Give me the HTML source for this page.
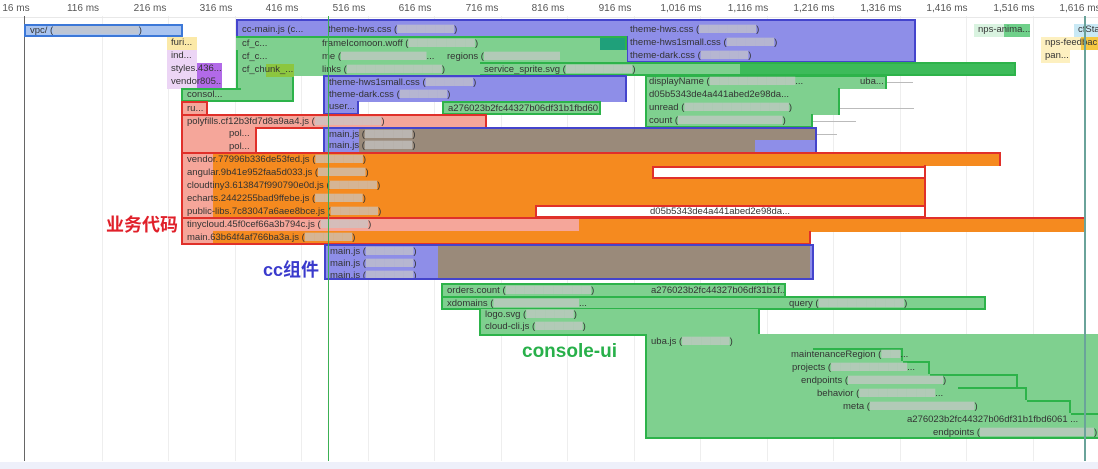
<!DOCTYPE html>
<html><head><meta charset="utf-8"><style>
body{margin:0;width:1098px;height:469px;background:#fff;position:relative;overflow:hidden;font-family:"Liberation Sans","Noto Sans CJK SC",sans-serif;}
div{position:absolute;box-sizing:border-box;}
.t{font-size:10px;color:#555;top:3px;width:60px;text-align:center;}
.g{top:16px;bottom:8px;width:1px;background:#eee;}
.b{height:13px;font-size:9.5px;line-height:12px;color:#333;padding-left:4px;white-space:nowrap;overflow:hidden;}
.bl{background:#8e8ee8;}
.gr{background:#7fd08f;}
.or{background:#f58a1f;}
.pk{background:#f5a69a;}
.gy{background:#9a8a7a;}
.x{color:rgba(200,200,200,0.7);}
</style></head><body>
<div class="t" style="left:-14px">16 ms</div><div class="t" style="left:53px">116 ms</div><div class="t" style="left:120px">216 ms</div><div class="t" style="left:186px">316 ms</div><div class="t" style="left:252px">416 ms</div><div class="t" style="left:319px">516 ms</div><div class="t" style="left:385px">616 ms</div><div class="t" style="left:452px">716 ms</div><div class="t" style="left:518px">816 ms</div><div class="t" style="left:585px">916 ms</div><div class="t" style="left:651px">1,016 ms</div><div class="t" style="left:718px">1,116 ms</div><div class="t" style="left:784px">1,216 ms</div><div class="t" style="left:851px">1,316 ms</div><div class="t" style="left:917px">1,416 ms</div><div class="t" style="left:984px">1,516 ms</div><div class="t" style="left:1050px">1,616 ms</div>
<div class="g" style="left:102px"></div><div class="g" style="left:168px"></div><div class="g" style="left:235px"></div><div class="g" style="left:301px"></div><div class="g" style="left:368px"></div><div class="g" style="left:434px"></div><div class="g" style="left:501px"></div><div class="g" style="left:567px"></div><div class="g" style="left:634px"></div><div class="g" style="left:700px"></div><div class="g" style="left:767px"></div><div class="g" style="left:833px"></div><div class="g" style="left:900px"></div><div class="g" style="left:966px"></div><div class="g" style="left:1033px"></div>
<div style="left:0;right:0;top:17px;height:1px;background:#e8e8e8"></div>
<div style="left:0;right:0;top:462px;height:7px;background:#eef0fa"></div>
<div style="left:24px;top:16px;bottom:8px;width:1px;background:#666"></div>

<div class="b" style="left:24px;top:24px;width:159px;background:#a9c4f0;border:2px solid #3c78d8;line-height:9px">vpc/ (<span class="x">▇▇▇▇▇▇▇▇▇</span>)</div>
<div class="b" style="left:167px;top:37px;width:30px;background:#fbe9a8">furi...</div>
<div class="b" style="left:167px;top:50px;width:30px;background:#ecd5f5">ind...</div>
<div class="b" style="left:167px;top:63px;width:55px;background:linear-gradient(90deg,#ecd5f5 30px,#b26ae8 30px)">styles.436...</div>
<div class="b" style="left:167px;top:76px;width:55px;background:linear-gradient(90deg,#ecd5f5 30px,#b26ae8 30px)">vendor805...</div>

<div class="b bl" style="left:236px;top:19px;width:680px;height:18px;border:2px solid #4444cc;border-bottom:none;padding-top:3px">cc-main.js (c...<span style="position:absolute;left:90px">theme-hws.css (<span class="x">▇▇▇▇▇▇</span>)</span><span style="position:absolute;left:392px">theme-hws.css (<span class="x">▇▇▇▇▇▇</span>)</span></div>
<div class="bl" style="left:626px;top:36px;width:290px;height:27px;border:2px solid #4444cc;border-top:none"></div>
<div class="b" style="left:626px;top:37px;width:280px;background:none">theme-hws1small.css (<span class="x">▇▇▇▇▇</span>)</div>
<div class="b" style="left:626px;top:50px;width:280px;background:none">theme-dark.css (<span class="x">▇▇▇▇▇</span>)</div>

<div class="gr" style="left:236px;top:36px;width:391px;height:40px;border:2px solid #2db34a;border-bottom:none;border-right:none"></div>
<div class="gr" style="left:236px;top:36px;width:391px;height:14px;border-top:2px solid #2db34a;border-right:2px solid #2db34a;background:linear-gradient(90deg,#7fd08f 364px,#1fa07a 364px)"></div>
<div class="gr" style="left:480px;top:62px;width:536px;height:14px;border:2px solid #2db34a;border-left:none;background:linear-gradient(90deg,#7fd08f 260px,#3dbb5a 260px)"></div>
<div class="gr" style="left:236px;top:75px;width:58px;height:27px;border:2px solid #2db34a;border-top:none"></div>
<div class="gr" style="left:181px;top:88px;width:60px;height:14px;border:2px solid #2db34a;border-right:none"></div>
<div class="b" style="left:238px;top:38px">cf_c...</div><div class="b" style="left:318px;top:38px">frameIcomoon.woff (<span class="x">▇▇▇▇▇▇▇</span>)</div>
<div class="b" style="left:238px;top:51px">cf_c...</div><div class="b" style="left:318px;top:51px">me (<span class="x">▇▇▇▇▇▇▇▇▇</span>...</div><div class="b" style="left:443px;top:51px">regions (<span class="x">▇▇▇▇▇▇▇▇</span></div>
<div class="b" style="left:238px;top:64px;width:56px;background:linear-gradient(90deg,transparent 28px,#8cc63f 28px)">cf_chunk_...</div><div class="b" style="left:318px;top:64px">links (<span class="x">▇▇▇▇▇▇▇▇▇▇</span>)</div><div class="b" style="left:480px;top:64px">service_sprite.svg (<span class="x">▇▇▇▇▇▇▇</span>)</div>
<div class="b" style="left:183px;top:89px">consol...</div>

<div class="b bl" style="left:323px;top:75px;width:304px;height:27px;border:2px solid #4444cc;border-bottom:none">theme-hws1small.css (<span class="x">▇▇▇▇▇</span>)<br>theme-dark.css (<span class="x">▇▇▇▇▇</span>)</div>
<div class="b bl" style="left:323px;top:101px;width:36px;height:14px;border:2px solid #4444cc;border-top:none">user...</div>
<div class="b gr" style="left:442px;top:101px;width:159px;height:14px;border:2px solid #2db34a">a276023b2fc44327b06df31b1fbd60...</div>

<div class="gr" style="left:645px;top:75px;width:242px;height:14px;border:2px solid #2db34a;border-bottom:none"></div>
<div class="gr" style="left:645px;top:88px;width:195px;height:27px;border-left:2px solid #2db34a;border-right:2px solid #2db34a"></div>
<div class="gr" style="left:645px;top:114px;width:168px;height:14px;border:2px solid #2db34a;border-top:none"></div>
<div class="b" style="left:645px;top:76px">displayName (<span class="x">▇▇▇▇▇▇▇▇▇</span>...</div><div class="b" style="left:856px;top:76px">uba...</div>
<div class="b" style="left:645px;top:89px">d05b5343de4a441abed2e98da...</div>
<div class="b" style="left:645px;top:102px">unread (<span class="x">▇▇▇▇▇▇▇▇▇▇▇</span>)</div>
<div class="b" style="left:645px;top:115px">count (<span class="x">▇▇▇▇▇▇▇▇▇▇▇</span>)</div>
<div style="left:887px;top:82px;width:26px;height:1px;background:#bbb"></div><div style="left:840px;top:108px;width:74px;height:1px;background:#bbb"></div><div style="left:813px;top:121px;width:43px;height:1px;background:#bbb"></div>

<div class="b pk" style="left:181px;top:101px;width:27px;height:14px;border:2px solid #e0302a;border-bottom:none">ru...</div>
<div class="b pk" style="left:181px;top:114px;width:306px;height:14px;border:2px solid #e0302a;border-bottom:none">polyfills.cf12b3fd7d8a9aa4.js (<span class="x">▇▇▇▇▇▇▇</span>)</div>
<div class="pk" style="left:181px;top:127px;width:75px;height:27px;border-left:2px solid #e0302a"></div>
<div class="b" style="left:225px;top:128px">pol...</div><div class="b" style="left:225px;top:141px">pol...</div>
<div style="left:255px;top:127px;width:70px;height:27px;border:2px solid #e0302a;border-right:none;background:#fff"></div>
<div class="b bl" style="left:323px;top:127px;width:494px;height:27px;border:2px solid #4444cc;border-bottom:none;background:linear-gradient(90deg,#8e8ee8 34px,#9a8a7a 34px);">main.js (<span class="x">▇▇▇▇▇</span>)</div>
<div class="gy" style="left:325px;top:140px;width:490px;height:12px;background:linear-gradient(90deg,#8e8ee8 34px,#9a8a7a 34px,#9a8a7a 430px,#8e8ee8 430px)"></div>
<div class="b" style="left:325px;top:140px">main.js (<span class="x">▇▇▇▇▇</span>)</div>
<div style="left:817px;top:134px;width:20px;height:1px;background:#bbb"></div>
<div class="or" style="left:181px;top:152px;width:820px;height:14px;border:2px solid #e0302a;border-bottom:none;background:linear-gradient(90deg,#f5a69a 30px,#f58a1f 30px)"></div>
<div class="or" style="left:181px;top:165px;width:745px;height:67px;border-left:2px solid #e0302a;border-right:2px solid #e0302a;background:linear-gradient(90deg,#f5a69a 30px,#f58a1f 30px)"></div>
<div style="left:652px;top:166px;width:274px;height:13px;border:2px solid #e0302a;background:#fff"></div>
<div style="left:535px;top:205px;width:391px;height:13px;border:2px solid #e0302a;background:#fff;font-size:9.5px;line-height:9px;padding-left:113px;color:#333">d05b5343de4a441abed2e98da...</div>
<div class="or" style="left:181px;top:217px;width:905px;height:15px;border:2px solid #e0302a;border-bottom:none;background:linear-gradient(90deg,#f5a69a 396px,#f58a1f 396px)"></div>
<div class="or" style="left:181px;top:231px;width:630px;height:14px;border:2px solid #e0302a;border-top:none;background:linear-gradient(90deg,#f5a69a 30px,#f58a1f 30px)"></div>
<div class="b" style="left:183px;top:154px">vendor.77996b336de53fed.js (<span class="x">▇▇▇▇▇</span>)</div>
<div class="b" style="left:183px;top:167px">angular.9b41e952faa5d033.js (<span class="x">▇▇▇▇▇</span>)</div>
<div class="b" style="left:183px;top:180px">cloudtiny3.613847f990790e0d.js (<span class="x">▇▇▇▇▇</span>)</div>
<div class="b" style="left:183px;top:193px">echarts.2442255bad9ffebe.js (<span class="x">▇▇▇▇▇</span>)</div>
<div class="b" style="left:183px;top:206px">public-libs.7c83047a6aee8bce.js (<span class="x">▇▇▇▇▇</span>)</div>
<div class="b" style="left:183px;top:219px">tinycloud.45f0cef66a3b794c.js (<span class="x">▇▇▇▇▇</span>)</div>
<div class="b" style="left:183px;top:232px">main.63b64f4af766ba3a.js (<span class="x">▇▇▇▇▇</span>)</div>

<div class="b bl" style="left:324px;top:244px;width:490px;height:36px;border:2px solid #4444cc;background:linear-gradient(90deg,#8e8ee8 112px,#9a8a7a 112px,#9a8a7a 484px,#8e8ee8 484px)">main.js (<span class="x">▇▇▇▇▇</span>)<br>main.js (<span class="x">▇▇▇▇▇</span>)<br>main.js (<span class="x">▇▇▇▇▇</span>)</div>

<div class="b gr" style="left:441px;top:283px;width:345px;height:14px;border:2px solid #2db34a;border-bottom:none">orders.count (<span class="x">▇▇▇▇▇▇▇▇▇</span>)<span style="position:absolute;left:208px">a276023b2fc44327b06df31b1f...</span></div>
<div class="b gr" style="left:441px;top:296px;width:545px;height:14px;border:2px solid #2db34a">xdomains (<span class="x">▇▇▇▇▇▇▇▇▇</span>...<span style="position:absolute;left:346px">query (<span class="x">▇▇▇▇▇▇▇▇▇</span>)</span></div>
<div class="b gr" style="left:479px;top:309px;width:281px;height:27px;border:2px solid #2db34a;border-top:none;border-bottom:none">logo.svg (<span class="x">▇▇▇▇▇</span>)<br>cloud-cli.js (<span class="x">▇▇▇▇▇</span>)</div>
<div class="gr" style="left:479px;top:334px;width:168px;height:2px;background:#2db34a"></div>
<div class="gr" style="left:645px;top:334px;width:168px;height:15px;border:2px solid #2db34a;border-bottom:none;border-left:none"></div>
<div class="gr" style="left:645px;top:334px;width:453px;height:105px;border:2px solid #2db34a;border-right:none;border-top:none;background:#7fd08f"></div>
<div class="gr" style="left:813px;top:348px;width:90px;height:13px;border-right:2px solid #2db34a;border-top:2px solid #2db34a"></div>
<div class="gr" style="left:903px;top:361px;width:27px;height:13px;border-right:2px solid #2db34a;border-top:2px solid #2db34a"></div>
<div class="gr" style="left:930px;top:374px;width:88px;height:13px;border-right:2px solid #2db34a;border-top:2px solid #2db34a"></div>
<div class="gr" style="left:958px;top:387px;width:69px;height:13px;border:2px solid #2db34a;border-left:none;border-bottom:none"></div>
<div class="gr" style="left:1027px;top:400px;width:44px;height:13px;border-right:2px solid #2db34a;border-top:2px solid #2db34a"></div>
<div class="gr" style="left:1071px;top:413px;width:27px;height:13px;border-top:2px solid #2db34a"></div>
<div class="b" style="left:647px;top:336px">uba.js (<span class="x">▇▇▇▇▇</span>)</div>
<div class="b" style="left:787px;top:349px">maintenanceRegion (<span class="x">▇▇</span>...</div>
<div class="b" style="left:788px;top:362px">projects (<span class="x">▇▇▇▇▇▇▇▇</span>...</div>
<div class="b" style="left:797px;top:375px">endpoints (<span class="x">▇▇▇▇▇▇▇▇▇▇</span>)</div>
<div class="b" style="left:813px;top:388px">behavior (<span class="x">▇▇▇▇▇▇▇▇</span>...</div>
<div class="b" style="left:839px;top:401px">meta (<span class="x">▇▇▇▇▇▇▇▇▇▇▇</span>)</div>
<div class="b" style="left:903px;top:414px">a276023b2fc44327b06df31b1fbd6061 ...</div>
<div class="b" style="left:929px;top:427px">endpoints (<span class="x">▇▇▇▇▇▇▇▇▇▇▇▇</span>)</div>

<div class="b" style="left:974px;top:24px;width:56px;background:linear-gradient(90deg,#d9f3e0 30px,#6fd08a 30px)">nps-anima...</div>
<div class="b" style="left:1074px;top:24px;width:24px;background:#c9e9f5">cfSta...</div>
<div class="b" style="left:1041px;top:37px;width:57px;background:linear-gradient(90deg,#fdf0c0 40px,#f5c842 40px)">nps-feedbac...</div>
<div class="b" style="left:1041px;top:50px;width:29px;background:#fdf0c0">pan...</div>

<div style="left:328px;top:16px;bottom:8px;width:1px;background:#3cb054"></div>
<div style="left:1084px;top:16px;bottom:8px;width:2px;background:#6aa39a"></div>

<div style="left:106px;top:211px;font-size:18px;font-weight:bold;color:#e0202a">业务代码</div>
<div style="left:263px;top:256px;font-size:18px;font-weight:bold;color:#3a3acc">cc组件</div>
<div style="left:522px;top:341px;font-size:19px;font-weight:bold;color:#28b04a">console-ui</div>
</body></html>
